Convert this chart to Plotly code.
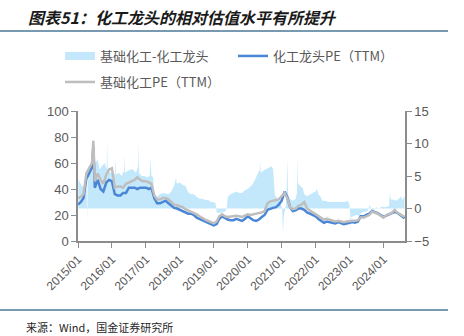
import plotly.graph_objects as go

# ---------------- data ----------------
line_dates = (
    ["2015-01-01", "2015-02-01", "2015-03-01", "2015-04-01", "2015-05-01", "2015-06-01",
     "2015-06-15", "2015-07-01", "2015-08-01", "2015-09-01", "2015-10-01", "2015-11-01", "2015-12-01"]
    + [f"{y}-{m:02d}-01" for y in range(2016, 2024) for m in range(1, 13)]
    + [f"2024-{m:02d}-01" for m in range(1, 9)]
    + ["2024-08-15"]
)

leader_pe = [
    28, 30, 33, 48, 52, 57, 72, 41, 47, 40, 38, 45, 47,
    46, 36, 35, 35, 37, 37, 41, 41, 41, 40, 41, 41,
    41, 40, 41, 33, 29, 29, 30, 31, 29, 27, 25.5, 25,
    24, 23, 22, 21, 21, 20, 18, 17, 16, 15, 14, 13,
    12, 13, 17, 19, 17.5, 16.5, 16, 16, 17, 16.5, 15.5, 17,
    19, 17.5, 16, 15.4, 16.5, 18.5, 20, 24, 25, 25.5, 26, 28,
    31, 38, 34, 26, 23, 23.5, 25, 25, 24, 22, 21, 20,
    19, 17, 15.5, 14, 15, 14.5, 14, 13.5, 14.5, 14, 13, 13.5,
    14, 14.5, 14, 15, 19, 19, 20, 21, 23, 22.5, 21.5, 20,
    18.5, 19.5, 20.5, 21, 22.5, 21.5, 20, 18.5, 17.5,
]

basic_pe = [
    33, 34, 36, 52, 56, 60, 77, 46, 52, 47, 44, 51, 55,
    56, 41, 42, 42, 41, 44, 45, 46, 47, 49, 47, 46,
    46, 45, 44, 35, 32, 32, 33, 33, 32, 30, 28, 27.5,
    27, 26, 24.5, 23.5, 23, 22, 20.5, 19, 17.5, 16.5, 15.5, 14.5,
    13.6, 15, 19, 20.5, 19, 18.5, 19, 19, 19.5, 19, 18.5, 19.5,
    20.5, 20, 20.5, 20.5, 21, 22, 23, 29, 30.5, 31, 31, 32,
    34.5, 37, 33, 26, 24.5, 25, 27, 28, 30, 25, 23.5, 22,
    21, 19, 17.5, 16.5, 17, 16.5, 16, 15, 15.5, 15, 14.5, 15,
    15.5, 15.5, 15.5, 16, 18, 18, 19, 20, 22.5, 22, 21, 19.5,
    18, 20, 21, 21.5, 24, 21.5, 20.5, 19, 18.5,
]

diff_dates = [
    "2015-01-05", "2015-01-20", "2015-02-10", "2015-03-01", "2015-04-05", "2015-04-10", "2015-04-14",
    "2015-05-01", "2015-06-01", "2015-06-20", "2015-07-05", "2015-08-01", "2015-08-20", "2015-09-15",
    "2015-10-15", "2015-11-05", "2015-11-10", "2015-11-16", "2015-12-15",
    "2016-01-15", "2016-02-05", "2016-02-10", "2016-02-15", "2016-03-15", "2016-04-15", "2016-05-10",
    "2016-05-15", "2016-05-20", "2016-06-15", "2016-07-15", "2016-08-15", "2016-09-15", "2016-10-10",
    "2016-10-15", "2016-10-20", "2016-11-15", "2016-12-15",
    "2017-01-15", "2017-02-10", "2017-02-20", "2017-03-01", "2017-03-20", "2017-04-05", "2017-05-01",
    "2017-06-01", "2017-07-01", "2017-08-01", "2017-09-01", "2017-10-01", "2017-11-01", "2017-11-20",
    "2017-12-01",
    "2018-01-01", "2018-02-01", "2018-03-01", "2018-04-01", "2018-05-01", "2018-06-01", "2018-07-01",
    "2018-08-01", "2018-09-01", "2018-10-01", "2018-11-01", "2018-12-01",
    "2019-01-01", "2019-01-20", "2019-02-01", "2019-03-01", "2019-04-01", "2019-05-01", "2019-05-20",
    "2019-06-01", "2019-07-01", "2019-08-01", "2019-09-01", "2019-10-01", "2019-11-01", "2019-12-01",
    "2020-01-01", "2020-02-01", "2020-03-01", "2020-04-01", "2020-05-10", "2020-05-15", "2020-05-20",
    "2020-06-15", "2020-07-15", "2020-08-15", "2020-09-15", "2020-10-01", "2020-10-20", "2020-11-20",
    "2020-12-20",
    "2021-01-05", "2021-01-15", "2021-01-25", "2021-02-10", "2021-02-20", "2021-03-01", "2021-03-05",
    "2021-03-10", "2021-04-01", "2021-05-01", "2021-06-01", "2021-06-15", "2021-06-20", "2021-06-25",
    "2021-07-15", "2021-08-15", "2021-09-01", "2021-10-01", "2021-11-01", "2021-12-01",
    "2022-01-01", "2022-01-15", "2022-02-01", "2022-02-20", "2022-03-15", "2022-04-15", "2022-05-15",
    "2022-06-15", "2022-07-15", "2022-08-15", "2022-09-15", "2022-10-15", "2022-11-15", "2022-12-15",
    "2023-01-01", "2023-01-10", "2023-01-15", "2023-01-20", "2023-02-15", "2023-03-15", "2023-04-15",
    "2023-05-15", "2023-06-15", "2023-07-15", "2023-08-10", "2023-08-20", "2023-09-15", "2023-10-15",
    "2023-11-15", "2023-12-15",
    "2024-01-15", "2024-02-15", "2024-03-01", "2024-03-10", "2024-03-20", "2024-04-15", "2024-05-15",
    "2024-06-15", "2024-07-10", "2024-07-20", "2024-08-15",
]

diff_vals = [
    4.5, 4.0, 3.5, 3.2, 3.0, -2.2, 3.5,
    6.0, 8.0, 10.8, 7.0, 7.5, 6.0, 6.5,
    7.0, 6.0, 10.4, 6.0, 5.5,
    5.5, 5.2, 8.0, 5.2, 5.5, 5.0, 5.8,
    8.2, 5.5, 5.8, 6.0, 6.0, 5.5, 6.5,
    10.3, 5.5, 5.0, 5.0,
    4.8, 5.0, 7.7, 5.0, 4.8, 1.0, 1.8,
    2.2, 2.4, 2.3, 2.2, 2.6, 3.5, 4.7,
    3.8,
    4.0, 3.6, 3.5, 2.5, 2.2, 2.2, 1.8,
    1.5, 1.5, 1.3, 1.3, 1.0,
    1.0, 0.8, -0.6, -0.7, -0.6, -0.5, 0.0,
    1.8, 2.2, 2.4, 2.6, 2.4, 2.4, 2.8,
    3.0, 3.4, 3.9, 4.8, 6.0, 7.3, 5.5,
    5.8, 6.0, 6.2, 6.5, 6.0, 2.0, 1.5,
    0.9,
    0.0, -3.7, -1.0, 0.0, 1.5, 5.0, 7.6,
    2.0, 1.5, 1.2, 1.5, 2.5, 8.1, 4.0,
    3.5, 3.2, 2.2, 1.9, 2.2, 2.4,
    2.6, 3.0, 2.2, 1.9, 1.2, 1.2, 1.0,
    1.0, 1.1, 1.0, 1.0, 1.0, 1.0, 1.2,
    0.5, -1.2, -3.5, -1.3, -1.2, -1.0, -1.1,
    -0.6, -0.5, -0.4, 0.6, -0.2, -0.3, 0.2,
    0.0, 0.3,
    0.2, 0.3, 0.4, 2.4, 1.4, 1.4, 1.2,
    1.5, 1.9, 1.3, 1.9,
]

names = ["基础化工-化工龙头", "化工龙头PE（TTM）", "基础化工PE（TTM）"]
title_text = "图表51：化工龙头的相对估值水平有所提升"
source_text = "来源：Wind，国金证券研究所"

# ---------------- figure ----------------
FONT = "Liberation Sans, Arial, Noto Sans CJK SC, sans-serif"
CJK = "Noto Sans CJK SC, sans-serif"
GREY_TXT = "#595959"
AXIS = "#8c8c8c"
AREA = "#C4E8FB"

fig = go.Figure()
# area on the base (right-side) axis so the PE lines, on the overlaying axis, are drawn above it
fig.add_trace(go.Scatter(
    x=diff_dates, y=diff_vals, name=names[0], yaxis="y",
    mode="lines", fill="tozeroy", fillcolor=AREA,
    line=dict(width=0, color=AREA), showlegend=False,
))
# legend entry for the area (small rectangle swatch)
fig.add_trace(go.Scatter(
    x=[None], y=[None], name=names[0], yaxis="y", mode="lines",
    line=dict(color=AREA, width=8), legend="legend",
))
fig.add_trace(go.Scatter(
    x=line_dates, y=leader_pe, name=names[1], mode="lines", yaxis="y2",
    line=dict(color="#4A86D6", width=2.5), legend="legend",
))
fig.add_trace(go.Scatter(
    x=line_dates, y=basic_pe, name=names[2], mode="lines", yaxis="y2",
    line=dict(color="#BEBEBE", width=2.5), legend="legend2",
))

L, R, T, B = 78, 405, 111, 241
W, H = 464, 336
pw, ph = R - L, B - T


def px(x):
    return (x - L) / pw


def py(y):
    return (B - y) / ph


fig.update_layout(
    width=W, height=H,
    margin=dict(l=L, r=W - R, t=T, b=H - B, pad=0),
    paper_bgcolor="white", plot_bgcolor="white",
    font=dict(family=FONT, size=13, color=GREY_TXT),
    showlegend=True,
    legend=dict(
        orientation="h", x=px(60), y=py(41), xanchor="left", yanchor="top",
        font=dict(family=CJK, size=13, color=GREY_TXT),
        entrywidth=128, entrywidthmode="pixels", bgcolor="rgba(0,0,0,0)",
        itemwidth=30, traceorder="normal",
    ),
    legend2=dict(
        orientation="h", x=px(60), y=py(67), xanchor="left", yanchor="top",
        font=dict(family=CJK, size=13, color=GREY_TXT),
        bgcolor="rgba(0,0,0,0)", itemwidth=30,
    ),
    xaxis=dict(
        type="date", range=["2015-01-01", "2024-08-20"],
        tick0="2015-01-01", dtick="M12", tickformat="%Y/%m",
        tickangle=-45, ticks="outside", ticklen=5, tickcolor=AXIS,
        showline=True, linecolor=AXIS, linewidth=1.5, showgrid=False, zeroline=False,
        tickfont=dict(family=FONT, size=12, color=GREY_TXT),
    ),
    yaxis=dict(
        range=[-5, 15], dtick=5, side="right",
        ticks="outside", ticklen=5, tickcolor=AXIS,
        showline=True, linecolor=AXIS, linewidth=1.5, showgrid=False, zeroline=False,
        tickfont=dict(family=FONT, size=13, color=GREY_TXT),
    ),
    yaxis2=dict(
        range=[0, 100], dtick=20, overlaying="y", side="left",
        ticks="outside", ticklen=5, tickcolor=AXIS,
        showline=True, linecolor=AXIS, linewidth=1.5, showgrid=False, zeroline=False,
        tickfont=dict(family=FONT, size=13, color=GREY_TXT),
    ),
    annotations=[
        dict(text="<b><i>" + title_text + "</i></b>", xref="paper", yref="paper",
             x=px(26), y=py(17), xanchor="left", yanchor="middle", showarrow=False,
             font=dict(family=CJK, size=16, color="#1a1a1a")),
        dict(text=source_text, xref="paper", yref="paper",
             x=px(24), y=py(327), xanchor="left", yanchor="middle", showarrow=False,
             font=dict(family="Noto Sans CJK SC, monospace", size=11, color="#262626")),
    ],
    shapes=[
        dict(type="line", xref="paper", yref="paper", x0=px(0), x1=px(448),
             y0=py(31), y1=py(31), line=dict(color="#4A7896", width=1.5)),
        dict(type="line", xref="paper", yref="paper", x0=px(0), x1=px(448),
             y0=py(310), y1=py(310), line=dict(color="#4A7896", width=1.5)),
    ],
)

fig.write_html("out.html")
